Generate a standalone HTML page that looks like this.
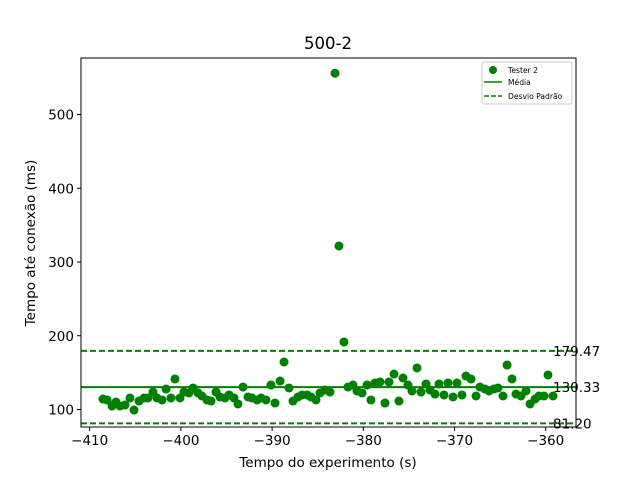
<!DOCTYPE html>
<html><head><meta charset="utf-8"><style>body{margin:0;background:#fff}svg{display:block;font-family:"DejaVu Sans","Liberation Sans",sans-serif}</style></head>
<body>
<svg id="chart" width="640" height="480" xmlns="http://www.w3.org/2000/svg"></svg>
<script>
const xs=[-408.54,-408.10,-407.55,-407.12,-406.68,-406.13,-405.58,-405.14,-404.59,-404.04,-403.61,-403.06,-402.62,-402.07,-401.63,-401.09,-400.65,-400.10,-399.66,-399.11,-398.67,-398.12,-397.69,-397.14,-396.70,-396.15,-395.71,-395.16,-394.72,-394.18,-393.74,-393.19,-392.64,-392.20,-391.65,-391.21,-390.67,-390.12,-389.68,-389.13,-388.69,-388.15,-387.71,-387.16,-386.72,-386.17,-385.74,-385.19,-384.75,-384.20,-383.65,-383.10,-382.67,-382.12,-381.68,-381.13,-380.69,-380.14,-379.59,-379.16,-378.72,-378.17,-377.62,-377.18,-376.63,-376.09,-375.65,-375.10,-374.66,-374.11,-373.67,-373.12,-372.69,-372.14,-371.70,-371.15,-370.71,-370.16,-369.73,-369.18,-368.74,-368.19,-367.64,-367.21,-366.66,-366.22,-365.67,-365.23,-364.68,-364.24,-363.70,-363.26,-362.71,-362.16,-361.72,-361.17,-360.74,-360.19,-359.75,-359.20];
const ys=[114.2,112.9,104.7,110.2,104.7,106.1,115.6,99.3,111.5,115.6,115.6,123.7,115.6,112.9,127.8,115.6,141.4,115.6,123.7,122.4,129.2,122.4,118.3,112.9,111.5,123.7,117.0,115.6,119.7,115.6,107.5,130.5,117.0,115.6,112.9,115.6,112.9,133.2,108.8,138.6,164.4,129.2,111.5,117.0,119.7,119.7,117.0,112.9,122.4,126.4,123.7,556,321.7,191.5,130.5,133.2,125.1,122.4,133.2,112.9,135.9,137.3,108.8,137.3,148.1,111.5,142.7,133.2,125.1,156.3,123.7,134.6,126.4,121.0,134.6,119.7,135.9,117.0,135.9,119.7,145.4,141.4,118.3,130.5,127.8,125.1,127.8,129.2,118.3,160.3,141.4,121.0,118.3,125.1,107.5,114.2,118.3,118.3,146.8,118.3];
const mean=130.33, sdLow=81.20, sdHigh=179.47;
const xTicks=[-410,-400,-390,-380,-370,-360];
const yTicks=[100,200,300,400,500];
const L=81,R=576,T=58,B=427;
const X=v=>89.7+(v+410)*9.12;
const Y=v=>409.5-(v-100)*0.7375;
const NS="http://www.w3.org/2000/svg",svg=document.getElementById('chart');
function el(t,a,txt){const e=document.createElementNS(NS,t);for(const k in a)e.setAttribute(k,a[k]);if(txt!==undefined)e.textContent=txt;svg.appendChild(e);return e;}
let e;
e=el('text',{x:328,y:49,'text-anchor':'middle','font-size':16.5},'500-2');


xs.forEach((x,i)=>{e=el('circle',{cx:X(x),cy:Y(ys[i]),r:4.5,fill:'#008000'});

});
e=el('line',{x1:L,x2:R,y1:Y(mean),y2:Y(mean),stroke:'#008000','stroke-width':2});


[sdHigh,sdLow].forEach(v=>{e=el('line',{x1:L,x2:R,y1:Y(v),y2:Y(v),stroke:'#008000','stroke-width':2,'stroke-dasharray':'6,3'});

});
[sdHigh,mean,sdLow].forEach(v=>{e=el('text',{x:553,y:Y(v)+5,'font-size':13.5},v.toFixed(2));

});
e=el('rect',{x:L,y:T,width:R-L,height:B-T,fill:'none',stroke:'#000','stroke-width':1});


xTicks.forEach(t=>{el('line',{x1:X(t),x2:X(t),y1:B,y2:B+4,stroke:'#000'});
e=el('text',{x:X(t),y:B+18,'text-anchor':'middle','font-size':13.5},'\u2212'+Math.abs(t));

});
yTicks.forEach(t=>{el('line',{x1:L-4,x2:L,y1:Y(t),y2:Y(t),stroke:'#000'});
e=el('text',{x:L-7,y:Y(t)+5,'text-anchor':'end','font-size':13.5},t);

});
e=el('text',{x:328,y:467,'text-anchor':'middle','font-size':13.5},'Tempo do experimento (s)');


e=el('text',{x:35,y:243,'text-anchor':'middle','font-size':13.5,transform:'rotate(-90 35 243)'},'Tempo até conexão (ms)');


e=el('rect',{x:482,y:62,width:90,height:42,fill:'#fff',stroke:'#ccc',rx:2});


el('circle',{cx:493,cy:70,r:4,fill:'#008000'});
el('line',{x1:484,x2:502,y1:82,y2:82,stroke:'#008000','stroke-width':1.6});
el('line',{x1:484,x2:502,y1:96,y2:96,stroke:'#008000','stroke-width':1.6,'stroke-dasharray':'5,2'});
[['Tester 2',73],['Média',85],['Desvio Padrão',99]].forEach(([t,y])=>{e=el('text',{x:508,y:y,'font-size':7.6},t);

});
</script>
</body></html>
